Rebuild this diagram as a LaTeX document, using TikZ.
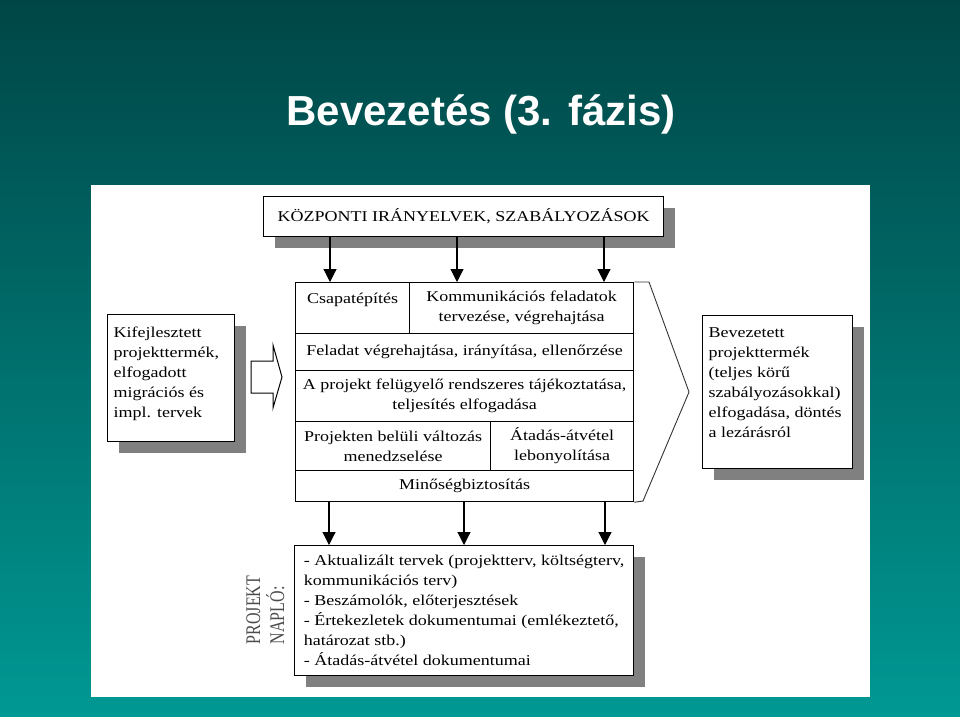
\documentclass[tikz,border=0pt]{standalone}
\usepackage{graphicx}
\usepackage{fontspec}
\setmainfont{Liberation Serif}[FakeStretch=1.2]
\newfontfamily\plainserif{Liberation Serif}
\newfontfamily\titlesans{Liberation Sans}
\usetikzlibrary{arrows.meta, shadows}

\definecolor{tealtop}{RGB}{0,70,70}
\definecolor{tealbottom}{RGB}{0,152,147}
\definecolor{shadowgray}{RGB}{128,128,128}
\newcommand{\boxfont}{\fontsize{15}{20}\selectfont}

\begin{document}
\begin{tikzpicture}[x=1pt, y=-1pt,
  box/.style={rectangle, draw, fill=white, line width=1.25pt, anchor=north west,
              drop shadow={shadow xshift=11pt, shadow yshift=-11pt, fill=shadowgray, opacity=1}},
  cell/.style={rectangle, draw, line width=1.25pt, anchor=north west, align=center,
               inner sep=0pt, font=\boxfont},
  arrow/.style={-{Triangle[width=13pt, length=13pt]}, line width=1.1pt}
]
\useasboundingbox (0,0) rectangle (960,716);
\shade[top color=tealtop, bottom color=tealbottom] (0,0) rectangle (960,716);
\fill[white] (91,185) rectangle (870,697);

\node[font=\titlesans\bfseries\fontsize{42}{48}\selectfont, text=white, anchor=base] (titel) at (481,125) {Bevezetés (3. fázis)};

% central guidelines
\node[box, minimum width=400, minimum height=40, font=\boxfont] (kozp) at (263,196) {KÖZPONTI IRÁNYELVEK, SZABÁLYOZÁSOK};

% phase block
\node[cell, minimum width=338, minimum height=219] (blokk) at (295,282) {};
\node[cell, minimum width=114, minimum height=51] (csapat) at (295,282) {Csapatépítés\\ \mbox{}};
\node[cell, minimum width=224, minimum height=51] (komm) at (409,282) {Kommunikációs feladatok\\tervezése, végrehajtása};
\node[cell, minimum width=338, minimum height=37] (feladat) at (295,333) {Feladat végrehajtása, irányítása, ellenőrzése};
\node[cell, minimum width=338, minimum height=51] (tajek) at (295,370) {A projekt felügyelő rendszeres tájékoztatása,\\teljesítés elfogadása};
\node[cell, minimum width=195, minimum height=49] (valtozas) at (295,421) {Projekten belüli változás\\menedzselése};
\node[cell, minimum width=143, minimum height=49] (atadas) at (490,421) {Átadás-átvétel\\lebonyolítása};
\node[cell, minimum width=338, minimum height=31] (minoseg) at (295,470) {Minőségbiztosítás};
\draw[line width=0.9pt, black!80] (blokk.north east) -- (649,282) -- (689,392) -- (643,501) -- (blokk.south east);

% input and output
\node[box, inner xsep=6pt, inner ysep=0pt] (kifejl) at (107,314)
  {\parbox[c][127pt][t]{115pt}{\raggedright\boxfont\vspace*{12pt}Kifejlesztett\\ projekttermék,\\ elfogadott\\ migrációs és\\ impl. tervek}};
\draw[line width=1pt] (251,361) -- (273,361) -- (273,345) -- (282,377) -- (273,408) -- (273,393) -- (251,393) -- cycle;
\node[box, inner xsep=6pt, inner ysep=0pt] (bevez) at (702,315)
  {\parbox[c][153pt][t]{138pt}{\raggedright\boxfont\vspace*{12pt}Bevezetett\\ projekttermék\\ (teljes körű\\ szabályozásokkal)\\ elfogadása, döntés\\ a lezárásról}};

% project log
\node[box, minimum width=339, minimum height=130, align=left, font=\boxfont] (naplo) at (294,545)
  {- Aktualizált tervek (projektterv, költségterv,\\
   kommunikációs terv)\\
   - Beszámolók, előterjesztések\\
   - Értekezletek dokumentumai (emlékeztető,\\
   határozat stb.)\\
   - Átadás-átvétel dokumentumai};
\node[rotate=90, inner sep=0pt, text=black!70, font=\plainserif\fontsize{16}{16}\selectfont] (projnaplo) at (268,610)
  {\scalebox{1}[1.3]{\begin{tabular}{@{}l@{}}PROJEKT\\NAPLÓ:\end{tabular}}};

\foreach \x in {330,457,604}{
  \coordinate (k\x) at (\x,0);
  \draw[arrow] (kozp.south -| k\x) -- (blokk.north -| k\x);
}
\foreach \x in {329,464,605}{
  \coordinate (a\x) at (\x,0);
  \draw[arrow] (blokk.south -| a\x) -- (naplo.north -| a\x);
}
\end{tikzpicture}
\end{document}
